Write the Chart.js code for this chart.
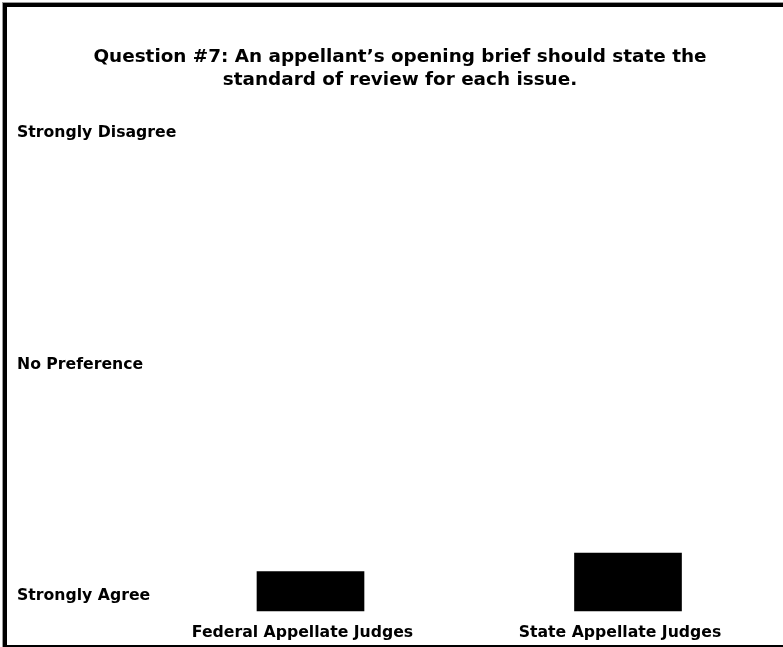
<!DOCTYPE html>
<html>
<head>
<meta charset="utf-8">
<script src="https://cdn.jsdelivr.net/npm/chart.js@4.4.1/dist/chart.umd.min.js"></script>
<style>
  html, body { margin: 0; padding: 0; background: #fff; }
  canvas { display: block; }
</style>
</head>
<body>
<canvas id="chart" width="783" height="647"></canvas>
<script>
// data
const categories = ['Federal Appellate Judges', 'State Appellate Judges'];
const meanResponse = [1.21, 1.37];
const yTickValues = [1, 3, 5];
const yTickLabels = ['Strongly Agree', 'No Preference', 'Strongly Disagree'];
const titleLines = [
  'Question #7: An appellant\u2019s opening brief should state the',
  'standard of review for each issue.'
];
const yMin = 0.87;
const yMax = 5.07;

const FONT_FAMILY = "'DejaVu Sans', Verdana, sans-serif";
Chart.defaults.font.family = FONT_FAMILY;
Chart.defaults.color = '#000';

// white background + the black frame round the picture
const framePlugin = {
  id: 'frame',
  beforeDraw(chart) {
    const { ctx, width, height } = chart;
    ctx.save();
    ctx.fillStyle = '#fff';
    ctx.fillRect(0, 0, width, height);
    ctx.restore();
  },
  afterDraw(chart) {
    const { ctx, width, height } = chart;
    ctx.save();
    ctx.fillStyle = '#999';
    ctx.fillRect(2, 2, width - 2, 1);
    ctx.fillRect(2, 2, 1, height - 2);
    ctx.fillStyle = '#000';
    ctx.fillRect(3, 3, width - 3, 4);
    ctx.fillRect(3, 3, 4, height - 3);
    ctx.fillRect(3, height - 2, width - 3, 2);
    ctx.restore();
  }
};

const ctx = document.getElementById('chart').getContext('2d');
new Chart(ctx, {
  type: 'bar',
  data: {
    labels: categories,
    datasets: [{
      data: meanResponse,
      backgroundColor: '#000',
      borderWidth: 0,
      barThickness: 107,
      base: yMin,
      clip: false
    }]
  },
  plugins: [framePlugin],
  options: {
    responsive: false,
    animation: false,
    devicePixelRatio: 1,
    layout: { padding: { left: 17, right: 0, top: 0, bottom: 0 } },
    plugins: {
      legend: { display: false },
      tooltip: { enabled: false },
      title: {
        display: true,
        text: titleLines,
        color: '#000',
        font: { size: 18.4, weight: 'bold', lineHeight: 23 / 18.4 },
        padding: { top: 45.5, bottom: 33.5 }
      }
    },
    scales: {
      x: {
        offset: false,
        grid: { display: false, drawTicks: false },
        border: { display: false },
        afterFit(axis) {
          axis.height = 36;
        },
        ticks: {
          color: '#000',
          font: { size: 15.7, weight: 'bold' },
          padding: 13,
          maxRotation: 0,
          autoSkip: false,
          labelOffset: -8
        }
      },
      y: {
        type: 'linear',
        min: yMin,
        max: yMax,
        grid: { display: false, drawTicks: false },
        border: { display: false },
        afterBuildTicks(axis) {
          axis.ticks = yTickValues.map(v => ({ value: v }));
        },
        afterFit(axis) {
          axis.width = 310.5 - 17;
        },
        ticks: {
          color: '#000',
          crossAlign: 'far',
          padding: 0,
          autoSkip: false,
          font: { size: 15.7, weight: 'bold' },
          callback(value) {
            const i = yTickValues.indexOf(value);
            return i >= 0 ? yTickLabels[i] : '';
          }
        }
      },
      // empty right-hand axis that only reserves the space right of the last bar
      yRight: {
        type: 'linear',
        position: 'right',
        grid: { display: false, drawTicks: false },
        border: { display: false },
        ticks: { display: false },
        afterFit(axis) {
          axis.width = 783 - 628;
        }
      }
    }
  }
});
</script>
</body>
</html>
